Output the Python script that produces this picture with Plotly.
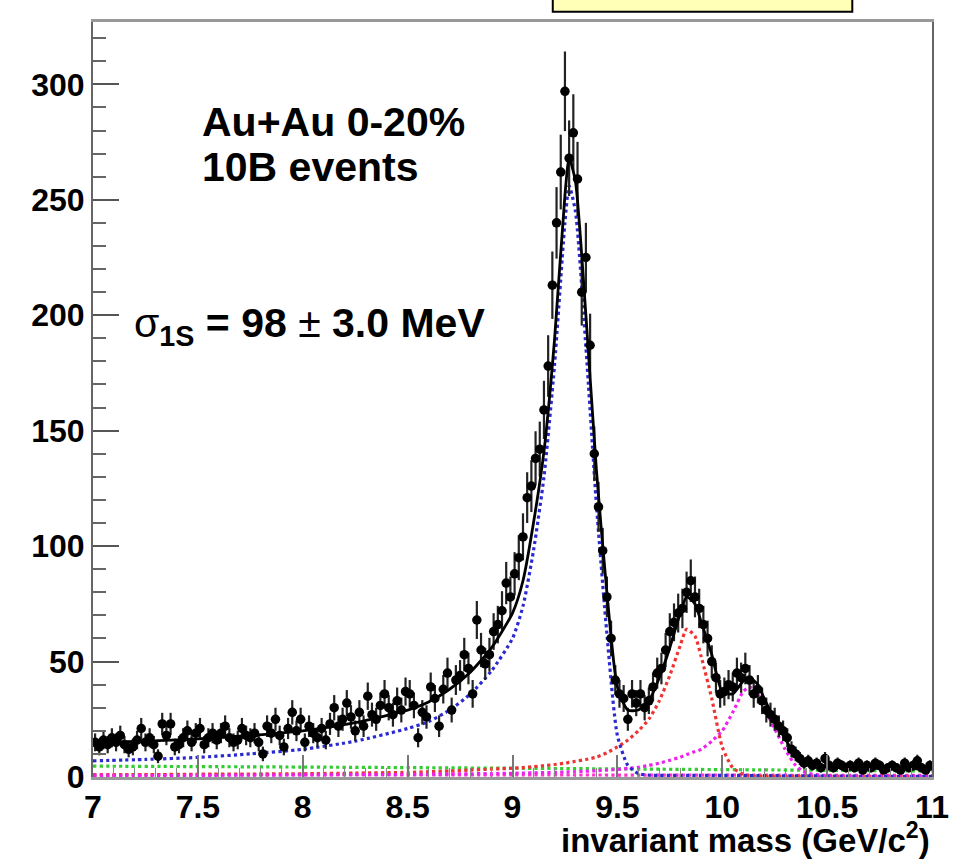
import numpy as np
import plotly.graph_objects as go

# ---------------- data ----------------
bin_lo = 7.0
bin_width = 0.02

data_counts = [
    15, 13, 16, 14, 17, 15, 18, 14, 12, 13,      # 7.01-7.19
    16, 21, 15, 17, 14, 9, 23, 18, 23, 13,       # 7.21-7.39
    14, 17, 20, 15, 19, 21, 14, 17, 19, 16,      # 7.41-7.59
    19, 22, 17, 15, 16, 21, 18, 17, 19, 15,      # 7.61-7.79
    10, 22, 19, 25, 18, 13, 21, 28, 20, 25,      # 7.81-7.99
    15, 22, 19, 17, 21, 16, 23, 30, 22, 25,      # 8.01-8.19
    32, 26, 20, 28, 22, 35, 27, 25, 31, 36,      # 8.21-8.39
    30, 27, 33, 29, 37, 36, 31, 17, 28, 26,      # 8.41-8.59
    39, 34, 22, 38, 45, 29, 42, 44, 53, 47,      # 8.61-8.79
    36, 68, 55, 49, 53, 63, 66, 72, 84, 78,      # 8.81-8.99
    88, 95, 104, 121, 126, 138, 142, 159, 178, 213,   # 9.01-9.19
    240, 262, 297, 268, 279, 259, 210, 225, 187, 140,  # 9.21-9.39
    117, 98, 78, 60, 42, 36, 34, 25, 36, 32,     # 9.41-9.59
    36, 30, 33, 39, 45, 47, 55, 63, 67, 71,      # 9.61-9.79
    73, 80, 85, 78, 73, 66, 60, 50, 43, 36,      # 9.81-9.99
    37, 40, 39, 45, 43, 47, 42, 36, 38, 33,      # 10.01-10.19
    29, 27, 25, 22, 20, 17, 12, 10, 8, 6,        # 10.21-10.39
    7, 5, 6, 4, 8, 5, 4, 6, 5, 4,                # 10.41-10.59
    5, 4, 6, 3, 5, 4, 6, 5, 3, 4,                # 10.61-10.79
    5, 4, 3, 6, 4, 5, 7, 4, 3, 5,                # 10.81-10.99
]

curve_mass = [7.0, 7.25, 7.5, 7.75, 8.0, 8.25, 8.5, 8.6, 8.7, 8.8, 8.9, 9.0, 9.05,
              9.1, 9.15, 9.2, 9.25, 9.27, 9.3, 9.35, 9.4, 9.45, 9.5, 9.55, 9.6,
              9.65, 9.7, 9.75, 9.8, 9.83, 9.87, 9.9, 9.95, 10.0, 10.05, 10.1,
              10.13, 10.17, 10.2, 10.25, 10.3, 10.35, 10.4, 10.5, 10.75, 11.0]

fit_total = [15, 15.5, 16.5, 18, 20, 23.5, 29, 32.5, 38, 45.5, 56, 71, 85,
             110, 141, 189, 252, 268, 258, 200, 133, 80, 39, 29, 29,
             33, 43, 56, 71, 78, 75, 67, 53, 37, 36, 41.5,
             43, 40, 34, 25, 16.5, 9.5, 6, 4.3, 3.8, 3.4]

fit_1s = [7.0, 7.6, 8.5, 10.0, 12.0, 15.5, 21, 24, 29, 36, 46, 60, 74,
          98, 130, 178, 240, 256, 245, 186, 118, 62, 18, 5, 1.5,
          0.8, 0.7, 0.7, 0.7, 0.7, 0.7, 0.7, 0.7, 0.7, 0.7, 0.7,
          0.6, 0.6, 0.6, 0.6, 0.5, 0.5, 0.5, 0.4, 0.3, 0.3]

fit_2s = [0.8, 1.0, 1.2, 1.3, 1.4, 1.7, 2.0, 2.3, 2.6, 3.0, 3.4, 3.8, 4.1,
          4.5, 4.9, 5.4, 6.0, 6.3, 6.8, 7.6, 8.6, 10.5, 13, 16, 20,
          25, 33, 44, 57, 64, 61, 52, 34, 13, 4, 1.2,
          0.6, 0.4, 0.3, 0.3, 0.3, 0.3, 0.3, 0.3, 0.3, 0.3]

fit_3s = [0.5, 0.6, 0.7, 0.8, 0.9, 1.0, 1.1, 1.2, 1.3, 1.4, 1.5, 1.6, 1.7,
          1.8, 1.9, 2.0, 2.1, 2.2, 2.3, 2.5, 2.7, 3.0, 3.3, 3.7, 4.2,
          5.0, 6.0, 7.2, 8.6, 9.7, 11, 12, 15.5, 20, 28, 37,
          39, 36, 30, 21, 12, 5, 1.8, 0.5, 0.3, 0.3]

bg_mass = [7.0, 8.0, 9.0, 10.0, 11.0]
fit_bg1 = [4.7, 4.3, 3.8, 3.2, 2.6]
fit_bg2 = [1.0, 1.0, 0.9, 0.8, 0.7]

x_tick_vals = [7, 7.5, 8, 8.5, 9, 9.5, 10, 10.5, 11]
x_tick_text = ["7", "7.5", "8", "8.5", "9", "9.5", "10", "10.5", "11"]
y_tick_vals = [0, 50, 100, 150, 200, 250, 300]
y_tick_text = ["0", "50", "100", "150", "200", "250", "300"]

bin_centers = np.round(bin_lo + bin_width * (np.arange(len(data_counts)) + 0.5), 3)

FONT = "Liberation Sans, Arial, Helvetica, sans-serif"

fig = go.Figure()

def dotted(x, y, color, width=3.2):
    fig.add_trace(go.Scatter(
        x=x, y=y, mode="lines",
        line=dict(color=color, width=width, dash="dot", shape="spline", smoothing=0.6),
        hoverinfo="skip", showlegend=False))

dotted(bg_mass, fit_bg2, "#ff33cc")
dotted(bg_mass, fit_bg1, "#33cc33")
dotted(curve_mass, fit_2s, "#ee3333")
dotted(curve_mass, fit_3s, "#ee22ee")
dotted(curve_mass, fit_1s, "#2a2ad0")

fig.add_trace(go.Scatter(
    x=bin_centers, y=data_counts, mode="markers",
    marker=dict(color="black", size=9.5, symbol="circle"),
    error_y=dict(type="sqrt", color="#222222", thickness=2.2, width=0),
    showlegend=False))

fig.add_trace(go.Scatter(
    x=curve_mass, y=fit_total, mode="lines",
    line=dict(color="black", width=2.8, shape="spline", smoothing=0.6),
    showlegend=False))

fig.update_layout(
    width=968, height=859,
    margin=dict(l=93, r=36, t=22, b=82),
    paper_bgcolor="white", plot_bgcolor="white",
    font=dict(family=FONT, color="black"),
    xaxis=dict(
        range=[7, 11], tickvals=x_tick_vals, ticktext=x_tick_text,
        ticks="inside", ticklen=22, tickwidth=1.5, tickcolor="#777777",
        minor=dict(dtick=0.1, ticks="inside", ticklen=9, tickcolor="#888888", tickwidth=1),
        showline=True, mirror=True, linecolor="#999999", linewidth=2.5,
        showgrid=False, zeroline=False,
        tickfont=dict(family=FONT, size=32, weight="bold", color="black"),
    ),
    yaxis=dict(
        range=[0, 327], tickvals=y_tick_vals, ticktext=y_tick_text,
        ticks="inside", ticklen=26, tickwidth=2, tickcolor="#555555",
        minor=dict(dtick=10, ticks="inside", ticklen=13, tickcolor="#666666", tickwidth=1.5),
        showline=True, mirror=True, linecolor="#666666", linewidth=2,
        showgrid=False, zeroline=False,
        tickfont=dict(family=FONT, size=32, weight="bold", color="black"),
    ),
)

fig.add_annotation(
    xref="paper", yref="paper", x=0.1275, y=0.868, xanchor="left", yanchor="middle",
    text="Au+Au 0-20%", showarrow=False,
    font=dict(family=FONT, size=41, weight="bold", color="black"))
fig.add_annotation(
    xref="paper", yref="paper", x=0.1275, y=0.8086, xanchor="left", yanchor="middle",
    text="10B events", showarrow=False,
    font=dict(family=FONT, size=41, weight="bold", color="black"))
fig.add_annotation(
    xref="paper", yref="paper", x=0.046, y=0.597, xanchor="left", yanchor="middle",
    text="σ<sub><b>1S</b></sub><b> = 98 </b>±<b> 3.0 MeV</b>", showarrow=False,
    font=dict(family=FONT, size=41, color="black"))
fig.add_annotation(
    xref="paper", yref="paper", x=1.0, y=-0.081, xanchor="right", yanchor="middle",
    text="invariant mass (GeV/c<sup>2</sup>)", showarrow=False,
    font=dict(family=FONT, size=33, weight="bold", color="black"))

# pale yellow box cut off at the top of the page
fig.add_shape(type="rect", xref="paper", yref="paper",
              x0=0.548, x1=0.905, y0=1.0135, y1=1.06,
              line=dict(color="black", width=2), fillcolor="#ffffb8")

fig.write_html("out.html")
